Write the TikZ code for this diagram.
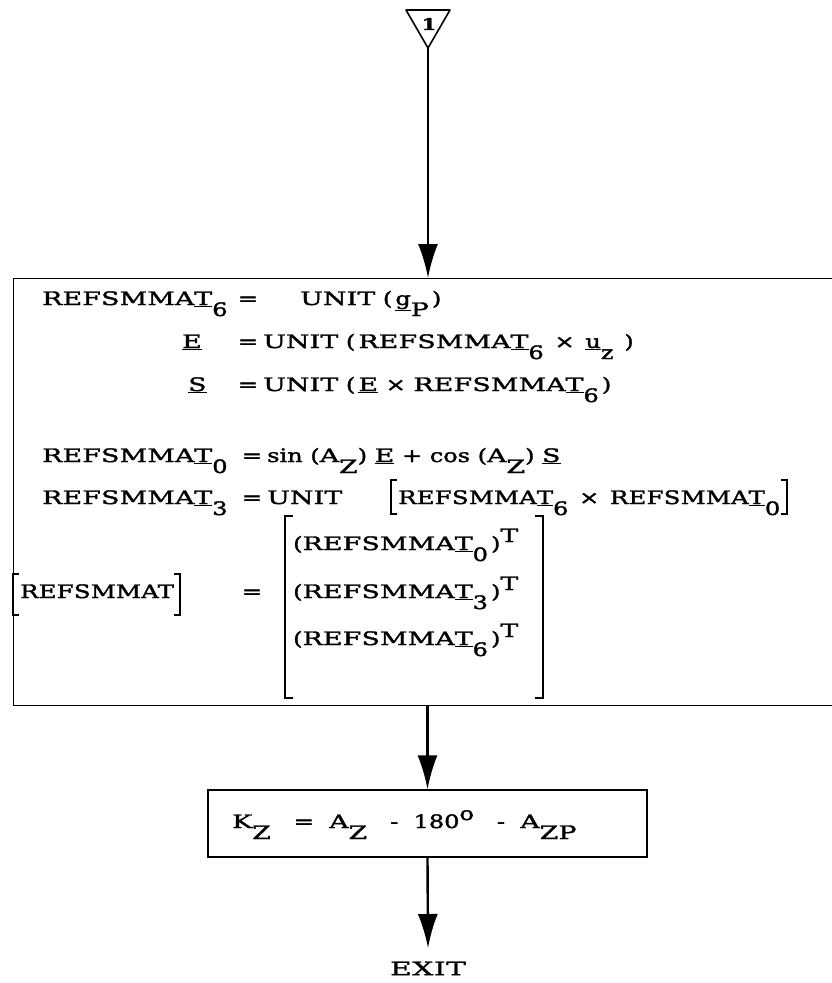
\documentclass[tikz,border=0pt]{standalone}
\usepackage{fontspec}
\setmainfont{DejaVu Serif}[FakeStretch=1.3, FakeBold=1.8]
\newfontfamily\capf{DejaVu Serif}[FakeStretch=1.45, LetterSpace=1, FakeBold=1.8]
\newfontfamily\capw{DejaVu Serif}[FakeStretch=1.6, LetterSpace=3, FakeBold=1.8]
\newfontfamily\capn{DejaVu Serif}[FakeStretch=1.32, LetterSpace=1, FakeBold=1.8]
\usetikzlibrary{arrows.meta}
\newcommand\C[1]{{\capf #1}}
\newcommand\sbx[1]{\raisebox{-11pt}{#1}}
\newcommand\spx[1]{\raisebox{8pt}{#1}}
\newcommand\ulv[1]{\underline{#1}}
\newcommand\RT{\C{REFSMMA}\ulv{\C{T}}}
\newcommand\RTn{{\capn REFSMMA}\ulv{{\capn T}}}
\begin{document}
\begin{tikzpicture}[x=1pt,y=-1pt,
  every node/.style={font=\fontsize{18.5}{21}\selectfont, inner sep=0pt},
  txt/.style={anchor=base west},
  eqs/.style={anchor=base},
  arr/.style={line width=2.4pt,-{Latex[length=34pt,width=20pt]}},
  boxline/.style={draw, line width=1.3pt},
  brk/.style={line width=1.3pt}]
\useasboundingbox (0,0) rectangle (831,983);
% connector symbol
\coordinate (apex) at (428,48);
\draw[line width=1.6pt, line join=round] (406,10) -- (450,10) -- (apex) -- cycle;
\node[font=\fontsize{16}{18}\selectfont\bfseries] (one) at (429,24) {1};
% main box
\node[boxline, anchor=north west, minimum width=819pt, minimum height=427pt] (box1) at (13,278) {};
\draw[arr] (apex) -- (apex |- box1.north);
% rows
\node[txt] (l1) at (42,305) {\RT\sbx{6}};
\node[eqs] (e1) at (248,305) {=};
\node[txt] (r1) at (300,305) {\C{UNIT} (\,\ulv{g}\sbx{\C{P}}\,)};
\node[txt] (l2) at (182,348) {\ulv{\C{E}}};
\node[eqs] (e2) at (248,348) {=};
\node[txt] (r2) at (263,348) {\C{UNIT} (\,\RT\sbx{6} \,×\, \ulv{u}\sbx{z} \,)};
\node[txt] (l3) at (188,391) {\ulv{\C{S}}};
\node[eqs] (e3) at (248,391) {=};
\node[txt] (r3) at (263,391) {\C{UNIT} (\,\ulv{\C{E}} × \RT\sbx{6}\,)};
\node[txt] (l4) at (42,462) {\RT\sbx{0}};
\node[eqs] (e4) at (252,462) {=};
\node[txt] (r4) at (267,462) {sin (\C{A}\sbx{\C{Z}}) \ulv{\C{E}} + cos (\C{A}\sbx{\C{Z}}) \ulv{\C{S}}};
\node[txt] (l5) at (42,504) {\RT\sbx{3}};
\node[eqs] (e5) at (252,504) {=};
\node[txt] (r5) at (267,504) {\C{UNIT}};
\node[txt] (r5b) at (398,504) {\RTn\sbx{6} \,×\, \RTn\sbx{0}};
\draw[brk] (397,480) -- (391,480) -- (391,514) -- (397,514);
\draw[brk] (781,480) -- (787,480) -- (787,514) -- (781,514);
% matrix
\node[txt] (lm) at (20,598) {{\capn REFSMMAT}};
\draw[brk] (19,574) -- (13,574) -- (13,615) -- (19,615);
\draw[brk] (174,574) -- (180,574) -- (180,615) -- (174,615);
\node[eqs] (em) at (252,598) {=};
\node[txt] (m1) at (293,550) {(\RT\sbx{0}\,)\spx{\C{T}}};
\node[txt] (m2) at (293,598) {(\RT\sbx{3}\,)\spx{\C{T}}};
\node[txt] (m3) at (293,645) {(\RT\sbx{6}\,)\spx{\C{T}}};
\draw[brk] (293,516) -- (285,516) -- (285,698) -- (293,698);
\draw[brk] (535,516) -- (543,516) -- (543,698) -- (535,698);
% second box
\node[boxline, minimum width=439pt, minimum height=67pt] (box2) at (427.5,823.5) {};
\node[txt] (k) at (232,828) {\C{K}\sbx{\C{Z}} \ \ = \ \C{A}\sbx{\C{Z}} \ \ - \ 180\spx{o} \ \ - \ \C{A}\sbx{\C{ZP}}};
\draw[arr] (box2.north |- box1.south) -- (box2.north);
% exit
\node[anchor=north, text height=27pt] (exit) at (428,948) {{\capw EXIT}};
\draw[arr] (box2.south) -- (exit.north);
\end{tikzpicture}
\end{document}
